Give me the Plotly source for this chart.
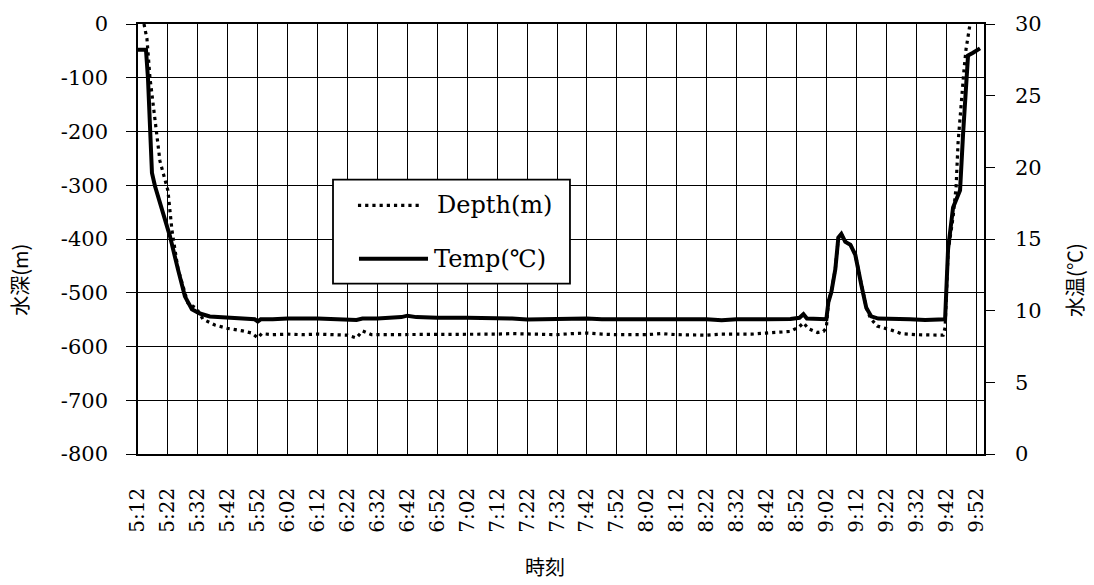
import datetime as dt
import plotly.graph_objects as go

# Depth log (m, negative = below surface)
depth_time = [
    "5:14:00", "5:15:00", "5:16:00", "5:17:40", "5:19:20", "5:22:00", "5:23:20",
    "5:25:20", "5:28:40", "5:31:40", "5:33:40", "5:37:40", "5:41:40", "5:47:00",
    "5:50:00", "5:52:00", "5:53:20", "5:57:00", "6:02:00", "6:07:00", "6:12:00",
    "6:17:00", "6:22:00", "6:25:00", "6:27:00", "6:30:00", "6:37:00", "6:42:00",
    "6:47:00", "6:52:00", "7:02:00", "7:12:00", "7:17:00", "7:22:00", "7:32:00",
    "7:37:00", "7:42:00", "7:47:00", "7:52:00", "8:02:00", "8:07:00", "8:12:00",
    "8:17:00", "8:22:00", "8:27:00", "8:32:00", "8:37:00", "8:42:00", "8:47:00",
    "8:50:00", "8:53:00", "8:54:20", "8:56:00", "8:59:00", "9:01:00", "9:02:00",
    "9:02:40", "9:03:40", "9:05:00", "9:06:00", "9:07:00", "9:08:20", "9:10:00",
    "9:11:40", "9:13:40", "9:15:20", "9:16:40", "9:19:00", "9:24:00", "9:27:00",
    "9:32:00", "9:37:00", "9:41:00", "9:41:40", "9:42:40", "9:44:20", "9:45:20",
    "9:46:00", "9:47:00", "9:48:00", "9:48:40", "9:49:40", "9:50:00",
]
depth_m = [
    0, -28, -100, -176, -255, -310, -383,
    -455, -519, -530, -549, -560, -566, -571,
    -575, -584, -576, -578, -577, -578, -577,
    -578, -579, -584, -571, -578, -578, -578,
    -578, -577, -577, -577, -576, -577, -578,
    -576, -575, -577, -578, -578, -576, -578,
    -578, -579, -577, -577, -577, -575, -574,
    -572, -563, -556, -567, -574, -572, -565,
    -517, -498, -455, -398, -391, -405, -410,
    -429, -484, -527, -547, -562, -570, -576,
    -578, -579, -579, -565, -424, -359, -304,
    -221, -148, -84, -47, -5, 0,
]

# Water temperature log (deg C)
temp_time = [
    "5:12:00", "5:14:40", "5:15:20", "5:16:00", "5:16:40", "5:17:40", "5:19:20",
    "5:21:00", "5:22:40", "5:25:20", "5:27:40", "5:30:00", "5:32:40", "5:36:00",
    "5:42:40", "5:47:00", "5:51:00", "5:52:00", "5:53:00", "5:57:00", "6:02:00",
    "6:12:00", "6:17:00", "6:22:00", "6:25:00", "6:27:00", "6:32:00", "6:40:00",
    "6:42:00", "6:45:00", "6:52:00", "7:02:00", "7:12:00", "7:17:00", "7:22:00",
    "7:27:00", "7:32:00", "7:37:00", "7:42:00", "7:47:00", "7:52:00", "8:02:00",
    "8:12:00", "8:22:00", "8:27:00", "8:32:00", "8:42:00", "8:50:00", "8:53:00",
    "8:54:20", "8:55:30", "9:02:00", "9:02:40", "9:03:40", "9:05:00", "9:06:00",
    "9:07:00", "9:08:20", "9:10:00", "9:11:40", "9:13:40", "9:15:20", "9:17:00",
    "9:19:20", "9:30:00", "9:35:00", "9:41:40", "9:42:00", "9:42:40", "9:44:20",
    "9:46:40", "9:47:40", "9:48:40", "9:49:20", "9:51:00", "9:53:20",
]
temp_c = [
    28.2, 28.2, 26.2, 22.3, 19.6, 18.7, 17.6,
    16.5, 15.2, 12.9, 11.0, 10.1, 9.8, 9.6,
    9.5, 9.45, 9.4, 9.25, 9.4, 9.4, 9.45,
    9.45, 9.4, 9.35, 9.35, 9.45, 9.45, 9.55,
    9.65, 9.55, 9.5, 9.5, 9.5, 9.45, 9.38,
    9.4, 9.35, 9.4, 9.45, 9.4, 9.4, 9.42,
    9.4, 9.4, 9.33, 9.4, 9.4, 9.42, 9.5,
    9.75, 9.45, 9.4, 10.6, 11.3, 12.9, 15.1,
    15.35, 14.8, 14.6, 13.9, 11.8, 10.2, 9.6,
    9.45, 9.4, 9.35, 9.4, 11.2, 14.3, 17.2,
    18.4, 22.3, 25.7, 27.8, 28.0, 28.3,
]

time_labels = [
    "5:12", "5:22", "5:32", "5:42", "5:52", "6:02", "6:12", "6:22", "6:32", "6:42",
    "6:52", "7:02", "7:12", "7:22", "7:32", "7:42", "7:52", "8:02", "8:12", "8:22",
    "8:32", "8:42", "8:52", "9:02", "9:12", "9:22", "9:32", "9:42", "9:52",
]
depth_ticks = [0, -100, -200, -300, -400, -500, -600, -700, -800]
temp_ticks = [0, 5, 10, 15, 20, 25, 30]


def clock(s):
    parts = [int(p) for p in s.split(":")]
    while len(parts) < 3:
        parts.append(0)
    return dt.datetime(2000, 1, 1, parts[0], parts[1], parts[2])


depth_x = [clock(t) for t in depth_time]
temp_x = [clock(t) for t in temp_time]
tick_x = [clock(t) for t in time_labels]

SERIF = "DejaVu Serif, Liberation Serif, Noto Sans CJK JP, serif"
CJK = "Noto Sans CJK JP, DejaVu Serif, sans-serif"
GRID = "black"
DOTS = "3.2px,4px"

fig = go.Figure()
fig.add_trace(go.Scatter(
    x=depth_x, y=depth_m, name="Depth(m)", mode="lines",
    line=dict(color="black", width=3.2, dash=DOTS),
    yaxis="y", showlegend=False,
))
fig.add_trace(go.Scatter(
    x=temp_x, y=temp_c, name="Temp(℃)", mode="lines",
    line=dict(color="black", width=4),
    yaxis="y2", showlegend=False,
))

fig.update_layout(
    width=1094, height=585,
    margin=dict(l=138, r=110, t=20, b=131),
    paper_bgcolor="white", plot_bgcolor="white",
    font=dict(family=SERIF, size=19, color="black"),
    xaxis=dict(
        type="date",
        range=[clock("5:12:00"), clock("9:54:40")],
        tickvals=tick_x, ticktext=time_labels, tickangle=-90,
        ticks="", ticklabelstandoff=24,
        showgrid=True, gridcolor=GRID, gridwidth=1.4,
        showline=True, linecolor="black", linewidth=1.6, mirror=True,
        zeroline=False, tickfont=dict(family=SERIF, size=20),
    ),
    yaxis=dict(
        range=[-800, 0], tickvals=depth_ticks,
        ticktext=[str(v) for v in depth_ticks],
        ticks="outside", ticklen=10, tickcolor=GRID, tickwidth=1.4,
        ticklabelstandoff=14,
        showgrid=True, gridcolor=GRID, gridwidth=1.4,
        showline=True, linecolor="black", linewidth=1.6, mirror=True,
        zeroline=False, tickfont=dict(family=SERIF, size=21),
    ),
    yaxis2=dict(
        range=[0, 30], tickvals=temp_ticks,
        ticktext=[str(v) for v in temp_ticks],
        overlaying="y", side="right",
        ticks="outside", ticklen=9, tickcolor=GRID, tickwidth=1.4,
        ticklabelstandoff=16,
        showgrid=False, showline=True, linecolor="black", linewidth=1.6,
        zeroline=False, tickfont=dict(family=SERIF, size=21),
    ),
)

# Axis titles
fig.add_annotation(text="水深(m)", xref="paper", yref="paper", x=-0.1395, y=0.405,
                   xanchor="center", yanchor="middle", textangle=-90,
                   showarrow=False, font=dict(family=CJK, size=20))
fig.add_annotation(text="水温(℃)", xref="paper", yref="paper", x=1.1076, y=0.405,
                   xanchor="center", yanchor="middle", textangle=-90,
                   showarrow=False, font=dict(family=CJK, size=20))
fig.add_annotation(text="時刻", xref="paper", yref="paper", x=0.481, y=-0.2627,
                   xanchor="center", yanchor="middle",
                   showarrow=False, font=dict(family=CJK, size=20))

# Legend box with line samples
fig.add_shape(type="rect", xref="paper", yref="paper", x0=0.2305, x1=0.5106,
              y0=0.3963, y1=0.6382, line=dict(color="black", width=1.8),
              fillcolor="white", layer="above")
fig.add_shape(type="line", xref="paper", yref="paper", x0=0.2600, x1=0.3333,
              y0=0.5783, y1=0.5783, line=dict(color="black", width=3.2, dash=DOTS),
              layer="above")
fig.add_shape(type="line", xref="paper", yref="paper", x0=0.2612, x1=0.3428,
              y0=0.4539, y1=0.4539, line=dict(color="black", width=4),
              layer="above")
fig.add_annotation(text="Depth(m)", xref="paper", yref="paper", x=0.3511, y=0.5783,
                   xanchor="left", yanchor="middle", showarrow=False,
                   font=dict(family=SERIF, size=24))
fig.add_annotation(text="Temp(℃)", xref="paper", yref="paper", x=0.3475, y=0.4539,
                   xanchor="left", yanchor="middle", showarrow=False,
                   font=dict(family=SERIF, size=24))

fig.write_html("out.html")
